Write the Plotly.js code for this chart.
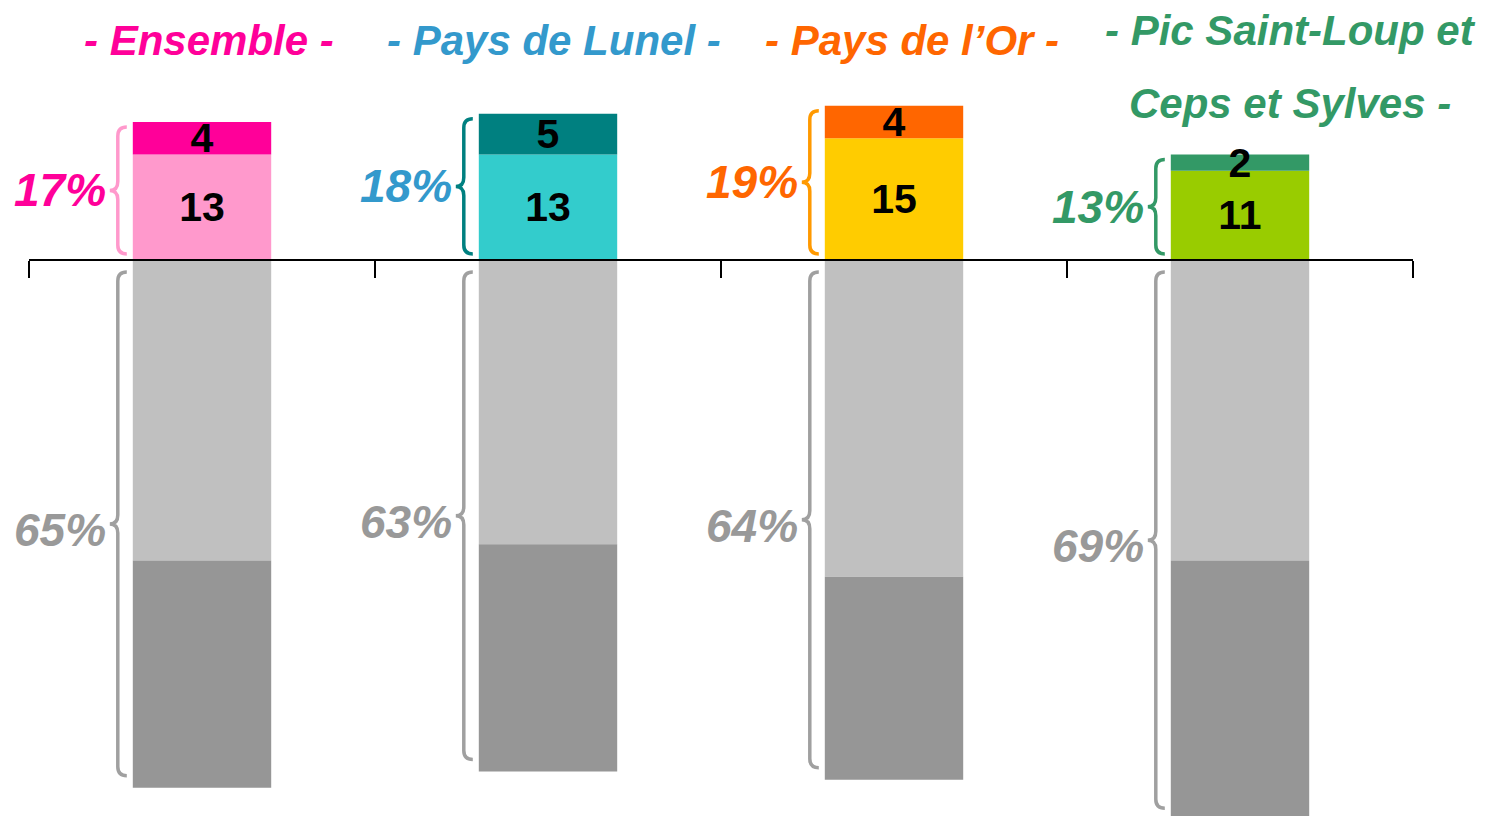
<!DOCTYPE html>
<html>
<head>
<meta charset="utf-8">
<script src="https://cdn.plot.ly/plotly-3.0.1.min.js"></script>
<style>html,body{margin:0;padding:0;background:#fff;}#chart{width:1486px;height:816px;}</style>
</head>
<body>
<div id="chart"></div>
<script>
// ---- data ----
const categories = ['- Ensemble -', '- Pays de Lunel -', '- Pays de l’Or -', '- Pic Saint-Loup et<br>Ceps et Sylves -'];
const posLow = [13, 13, 15, 11];
const posHigh = [4, 5, 4, 2];
const negLight = [37, 35, 39, 37];
const negDark = [28, 28, 25, 32];

// ---- styles ----
const colLow = ['#ff99cc', '#33cccc', '#ffcc00', '#99cc00'];
const colHigh = ['#ff0099', '#008080', '#ff6600', '#339966'];
const colLabel = ['#ff0099', '#3399cc', '#ff6600', '#339966'];
const colBrace = ['#ff99cc', '#008080', '#ff9900', '#339966'];
const grayLight = '#c0c0c0', grayDark = '#969696', grayText = '#999999', grayBrace = '#a0a0a0';
const FONT = 'Liberation Sans, Arial, sans-serif';

const W = 1486, H = 816, ML = 29, MR = 73;
const yMin = -68.47, yMax = 32.02;
const pxX = 4 / (W - ML - MR);          // x units per pixel
const pxY = (yMax - yMin) / H;          // y units per pixel
const barW = 0.4;

const xs = categories.map((_, i) => i);
const posTot = posLow.map((v, i) => v + posHigh[i]);
const negTot = negLight.map((v, i) => v + negDark[i]);

const traces = [
  {type: 'bar', x: xs, y: posLow, width: barW, marker: {color: colLow},
   text: posLow.map(String), textposition: 'inside', insidetextanchor: 'middle', textangle: 0, constraintext: 'none',
   textfont: {family: FONT, size: 41, color: '#000', weight: 'bold'}, hoverinfo: 'none'},
  {type: 'bar', x: xs, y: posHigh, width: barW, marker: {color: colHigh},
   text: posHigh.map(String), textposition: 'inside', insidetextanchor: 'middle', textangle: 0, constraintext: 'none',
   textfont: {family: FONT, size: 41, color: '#000', weight: 'bold'}, hoverinfo: 'none', cliponaxis: false},
  {type: 'bar', x: xs, y: negLight.map(v => -v), width: barW, marker: {color: grayLight}, hoverinfo: 'none'},
  {type: 'bar', x: xs, y: negDark.map(v => -v), width: barW, marker: {color: grayDark}, hoverinfo: 'none'}
];

function bracePath(xr, xv, xt, yTop, yBot, r) {
  const ym = (yTop + yBot) / 2;
  return `M ${xr},${yTop} Q ${xv},${yTop} ${xv},${yTop - r} L ${xv},${ym + r} Q ${xv},${ym} ${xt},${ym} ` +
         `Q ${xv},${ym} ${xv},${ym - r} L ${xv},${yBot + r} Q ${xv},${yBot} ${xr},${yBot}`;
}

const shapes = [];
const annotations = [];
xs.forEach((x, i) => {
  const L = x - barW / 2;
  const xr = L - 6 * pxX, xv = L - 15 * pxX, xt = L - 23 * pxX;
  const r = 9 * pxY;
  // positive brace
  const pTop = posTot[i] - 5 * pxY, pBot = 6 * pxY;
  shapes.push({type: 'path', xref: 'x', yref: 'y', path: bracePath(xr, xv, xt, pTop, pBot, r),
               line: {color: colBrace[i], width: 3.5}});
  annotations.push({xref: 'x', yref: 'y', x: xt, y: (pTop + pBot) / 2, xanchor: 'right', yanchor: 'middle',
                    xshift: -2, text: posTot[i] + '%', showarrow: false,
                    font: {family: FONT, size: 46, color: colLabel[i], weight: 'bold', style: 'italic'}});
  // negative brace
  const nTop = -12 * pxY, nBot = -negTot[i] + 12 * pxY;
  shapes.push({type: 'path', xref: 'x', yref: 'y', path: bracePath(xr, xv, xt, nTop, nBot, r),
               line: {color: grayBrace, width: 3.5}});
  annotations.push({xref: 'x', yref: 'y', x: xt, y: (nTop + nBot) / 2, xanchor: 'right', yanchor: 'middle',
                    xshift: -2, yshift: -6, text: negTot[i] + '%', showarrow: false,
                    font: {family: FONT, size: 46, color: grayText, weight: 'bold', style: 'italic'}});
  // category label(s)
  const lines = categories[i].split('<br>');
  const labelShift = [7, 6, 18, 50][i];
  const topY = lines.length > 1 ? 31 : 40;
  lines.forEach((t, k) => {
    annotations.push({xref: 'x', yref: 'paper', x: x, y: 1 - (topY + k * 72) / H, xanchor: 'center', yanchor: 'middle',
                      xshift: labelShift, text: t, showarrow: false,
                      font: {family: FONT, size: 42, color: colLabel[i], weight: 'bold', style: 'italic'}});
  });
});

const layout = {
  width: W, height: H,
  margin: {l: ML, r: MR, t: 0, b: 0, pad: 0},
  paper_bgcolor: '#fff', plot_bgcolor: '#fff',
  barmode: 'relative',
  showlegend: false,
  xaxis: {range: [-0.5, 3.5], anchor: 'free', position: (0 - yMin) / (yMax - yMin),
          tickvals: [-0.5, 0.5, 1.5, 2.5, 3.5], ticks: 'outside', ticklen: 17, tickwidth: 2, tickcolor: '#000',
          showline: true, linecolor: '#000', linewidth: 2, showgrid: false, zeroline: false,
          showticklabels: false, fixedrange: true, layer: 'above traces'},
  yaxis: {range: [yMin, yMax], visible: false, showgrid: false, zeroline: false, fixedrange: true},
  shapes: shapes,
  annotations: annotations
};

Plotly.newPlot('chart', traces, layout, {displayModeBar: false, staticPlot: true});
</script>
</body>
</html>
